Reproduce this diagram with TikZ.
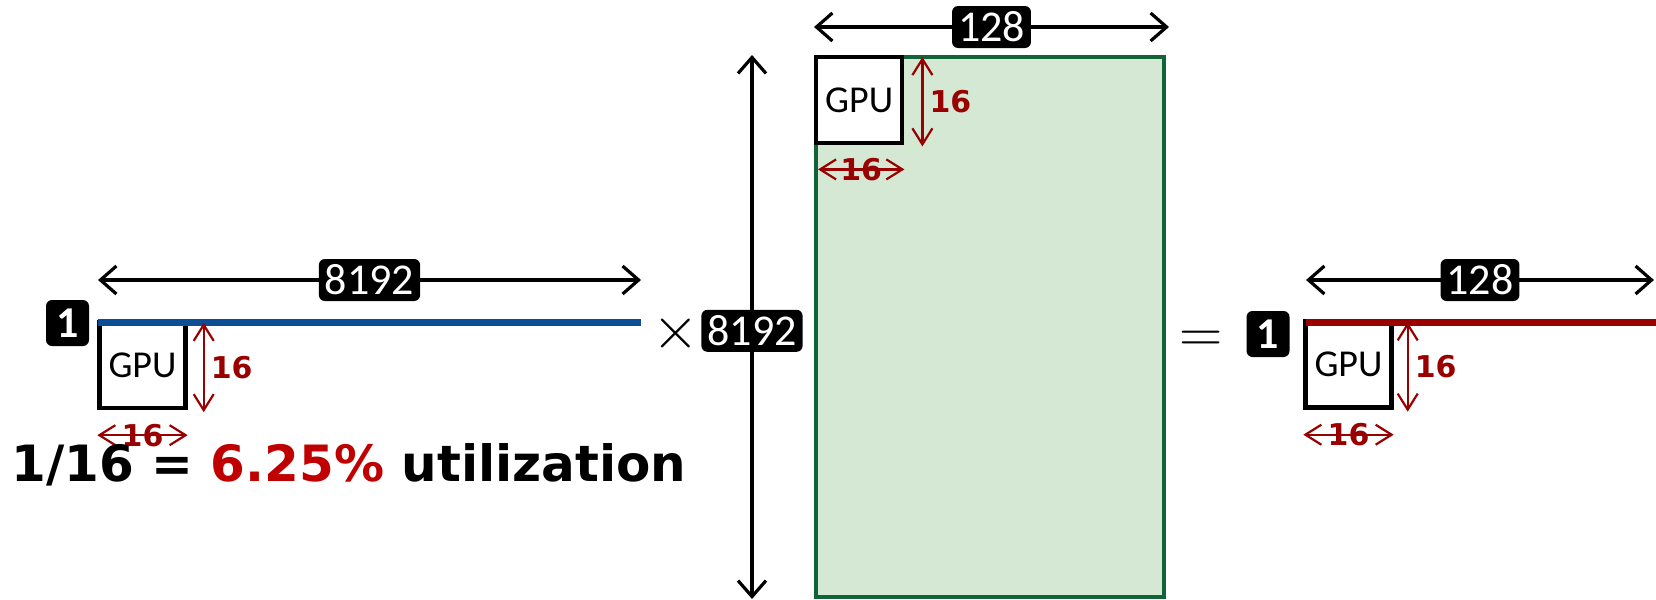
\RequirePackage{fix-cm}
\documentclass[tikz,border=0pt]{standalone}
\usepackage[no-math]{fontspec}
\setmainfont{DejaVu Sans}
\newfontfamily\handfont{Carlito}
\usetikzlibrary{arrows.meta,positioning}
\definecolor{rowblue}{RGB}{12,78,150}
\definecolor{dimred}{RGB}{153,0,0}
\definecolor{hotred}{RGB}{192,0,0}
\definecolor{matgreen}{RGB}{16,100,56}
\definecolor{matfill}{RGB}{213,232,212}
\begin{document}
\begin{tikzpicture}[x=0.5pt,y=-0.5pt,every node/.style={inner sep=0pt}]
  \tikzstyle{badge}=[fill=black,text=white,rounded corners=3pt,minimum height=21pt,inner xsep=3pt,font=\handfont\fontsize{22}{22}\selectfont]
  \tikzstyle{onebadge}=[badge,minimum width=21.5pt,minimum height=23pt,font=\handfont\bfseries\fontsize{22}{22}\selectfont]
  \tikzstyle{gpu}=[draw,line width=2.2pt,fill=white,minimum width=43pt,minimum height=43pt,font=\handfont\fontsize{19}{19}\selectfont]
  \tikzstyle{dim}=[line width=1.6pt,{Straight Barb[length=8pt,width=14pt]}-{Straight Barb[length=8pt,width=14pt]}]
  \tikzstyle{rdim}=[dimred,line width=1.1pt,{Straight Barb[length=8pt,width=10pt]}-{Straight Barb[length=8pt,width=10pt]}]
  \tikzstyle{rlab}=[text=dimred,font=\bfseries\fontsize{15}{15}\selectfont]
  \tikzstyle{op}=[font=\fontsize{30}{30}\selectfont]
  \useasboundingbox (0,0) rectangle (1656,600);
  % left: one row of 8192
  \node[gpu] (gpuL) at (142.5,365) {GPU};
  \coordinate (rowLa) at (98,322);
  \coordinate (rowLb) at (641,322);
  \draw[rowblue,line width=3.5pt] (rowLa) -- (rowLb);
  \node[onebadge] (oneL) at (67.5,323) {1};
  \draw[dim] ([yshift=21pt]rowLa) -- ([yshift=21pt]rowLb) node[badge,midway] (colsL) {8192};
  \draw[rdim] ([xshift=8pt,yshift=-1.5pt]gpuL.north east) -- ([xshift=8pt,yshift=-1pt]gpuL.south east) node[rlab,midway,right=3pt] {16};
  \draw[rdim] ([yshift=-12.5pt]gpuL.south west) -- ([yshift=-12.5pt]gpuL.south east) node[rlab,midway] {16};
  \node[font=\bfseries\fontsize{25}{25}\selectfont,anchor=west] (util) at (11,465) {1/16 = \textcolor{hotred}{6.25\%} utilization};
  \node[op] (times) at (676,333) {$\times$};
  % middle: 8192 x 128 matrix
  \node[draw=matgreen,fill=matfill,line width=2pt,minimum width=174pt,minimum height=270pt] (mat) at (990,327) {};
  \node[gpu,anchor=north west] (gpuM) at (mat.north west) {GPU};
  \draw[dim] ([xshift=-31pt]mat.north west) -- ([xshift=-31pt]mat.south west) node[badge,pos=0.507] (rowsM) {8192};
  \draw[dim] ([yshift=14pt]mat.north west) -- ([yshift=14pt,xshift=1.5pt]mat.north east) node[badge,midway] (colsM) {128};
  \draw[rdim] ([xshift=9pt,yshift=-1pt]gpuM.north east) -- ([xshift=9pt,yshift=-0.5pt]gpuM.south east) node[rlab,midway,right=3pt] {16};
  \draw[rdim] ([xshift=2pt,yshift=-12pt]gpuM.south west) -- ([yshift=-12pt]gpuM.south east) node[rlab,midway] {16};
  \node[op] (equals) at (1201,342) {$=$};
  % right: result row of 128
  \node[gpu] (gpuR) at (1348.5,364.5) {GPU};
  \coordinate (rowRa) at (1306,322);
  \coordinate (rowRb) at (1656,322);
  \draw[dimred,line width=3.5pt] (rowRa) -- (rowRb);
  \node[onebadge] (oneR) at (1268,334) {1};
  \draw[dim] ([yshift=21pt]rowRa) -- ([xshift=-1pt,yshift=21pt]rowRb) node[badge,midway] (colsR) {128};
  \draw[rdim] ([xshift=7pt,yshift=-1.5pt]gpuR.north east) -- ([xshift=7pt,yshift=-1pt]gpuR.south east) node[rlab,midway,right=3pt] {16};
  \draw[rdim] ([yshift=-12.5pt]gpuR.south west) -- ([yshift=-12.5pt]gpuR.south east) node[rlab,midway] {16};
\end{tikzpicture}
\end{document}
